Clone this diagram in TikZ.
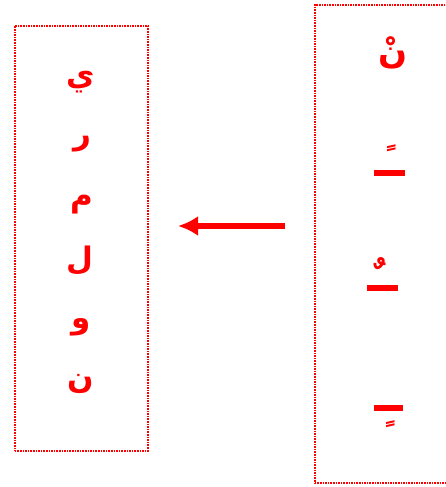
\documentclass[tikz,border=0pt]{standalone}
\usepackage{fontspec}
\usetikzlibrary{arrows.meta}
\newfontfamily\arabicfont[Script=Arabic]{DejaVu Sans}
\TeXXeTstate=1
\begin{document}
\begin{tikzpicture}[x=1pt,y=-1pt,
  box/.style={draw=red, densely dotted, line width=1.6pt},
  letter/.style={text=red, font=\arabicfont\bfseries\fontsize{31}{36}\selectfont, inner sep=0pt},
  tanween/.style={text=red, font=\arabicfont\bfseries\fontsize{30}{34}\selectfont, inner sep=0pt},
  bar/.style={fill=red, draw=none}]
\useasboundingbox (0,0) rectangle (446,487);
\node[box, minimum width=133pt, minimum height=425pt, anchor=north west] (left) at (14,25) {};
\begin{scope}
\clip (0,0) rectangle (446,487);
\node[box, minimum width=150pt, minimum height=478pt, anchor=north west] (right) at (314,4) {};
\end{scope}
\node[letter] (l1) at (81,82) {\beginR ي\endR};
\node[letter] (l2) at (82,144) {\beginR ر\endR};
\node[letter] (l3) at (82,205) {\beginR م\endR};
\node[letter] (l4) at (80,261) {\beginR ل\endR};
\node[letter] (l5) at (81,327) {\beginR و\endR};
\node[letter] (l6) at (81,384) {\beginR ن\endR};
\node[letter, font=\arabicfont\bfseries\fontsize{34}{38}\selectfont] (r1) at (393,53) {\beginR نْ\endR};
\fill[bar] (374,170) rectangle (405,176);
\node[tanween] (r2) at (389,157) {\beginR\char"00A0 ً\endR};
\fill[bar] (367,285) rectangle (398,291);
\node[tanween, font=\arabicfont\bfseries\fontsize{42}{46}\selectfont] (r3) at (377,276) {\beginR\char"00A0 ٌ\endR};
\fill[bar] (374,405) rectangle (403,411);
\node[tanween] (r4) at (388,424) {\beginR\char"00A0 ٍ\endR};
\coordinate (as) at (285,226);
\coordinate (ae) at (178,226);
\draw[red, line width=5.5pt, -{Latex[length=20pt,width=20pt]}] (as) -- (ae);
\end{tikzpicture}
\end{document}
